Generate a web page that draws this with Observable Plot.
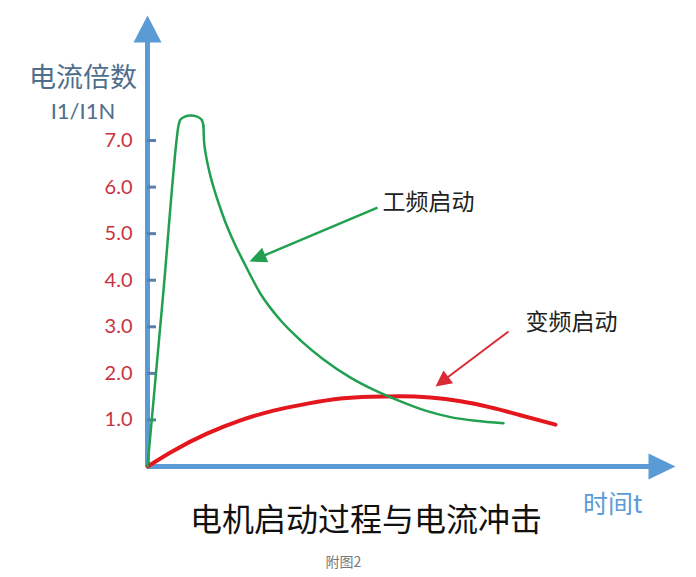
<!DOCTYPE html>
<html>
<head>
<meta charset="utf-8">
<script src="https://cdn.jsdelivr.net/npm/d3@7"></script>
<script src="https://cdn.jsdelivr.net/npm/@observablehq/plot@0.6"></script>
<style>
  body { margin: 0; background: #fff; }
  #chart svg { display: block; }
</style>
</head>
<body>
<div id="chart"></div>
<script>
// ---- data (time in arbitrary units, current as multiple of rated current I1/I1N) ----
// direct-on-line start: rise and peak
const greenRiseT = [0, 0.31, 0.62, 0.66, 0.76, 0.86, 0.98, 1.08, 1.12];
const greenRiseI = [0, 3.66, 7.32, 7.45, 7.52, 7.54, 7.52, 7.45, 7.30];
// direct-on-line start: decay
const greenDecayT = [1.12, 1.13, 1.16, 1.20, 1.26, 1.34, 1.44, 1.56, 1.74, 1.92, 2.26, 2.66, 3.06, 3.52, 4.06, 4.56, 5.06, 5.56, 6.06, 6.56, 7.12];
const greenDecayI = [7.30, 7.00, 6.74, 6.51, 6.23, 5.93, 5.60, 5.24, 4.79, 4.40, 3.71, 3.14, 2.71, 2.30, 1.91, 1.63, 1.40, 1.20, 1.06, 0.98, 0.93];
// variable-frequency start
const redT = [0, 0.52, 1.20, 1.86, 2.52, 3.20, 3.86, 4.46, 5.06, 5.66, 6.26, 6.86, 7.46, 8.16];
const redI = [0, 0.34, 0.71, 0.99, 1.20, 1.35, 1.46, 1.50, 1.51, 1.48, 1.40, 1.27, 1.10, 0.90];
const yTicks = [1, 2, 3, 4, 5, 6, 7];
const seriesNames = ["工频启动", "变频启动"];
const labelT = [4.7, 7.56];
const labelI = [5.67, 3.09];
const arrowStartT = [4.6, 7.22];
const arrowStartI = [5.56, 2.90];
const arrowTipT = [2.04, 5.76];
const arrowTipI = [4.40, 1.72];
const xMax = 10.56;
const yMax = 9.685;
const yTitle = ["电流倍数", "I1/I1N"];
const xTitle = "时间t";
const chartTitle = "电机启动过程与电流冲击";
const caption = "附图2";

// ---- layout / style ----
const W = 696, H = 577, mL = 147, mR = 21, mT = 15, mB = 111;
const kx = (W - mL - mR) / xMax;   // px per time unit
const ky = (H - mT - mB) / yMax;   // px per current unit
const GREEN = "#21a050", RED = "#e3171d", RED_ARROW = "#d92a35", BLUE = "#5b9bd5";
const TICK_RED = "#c8323f", LABEL_BLUE = "#4f6e8c";
const CJK = "'Noto Sans CJK SC', 'Noto Sans', sans-serif";
const LAT = "Lato, 'Noto Sans', sans-serif";

const headSymbol = (len, half) => ({
  draw(ctx) { ctx.moveTo(0, 0); ctx.lineTo(half, len); ctx.lineTo(-half, len); ctx.closePath(); }
});

const greenRise = greenRiseT.map((t, i) => ({t, v: greenRiseI[i]}));
const greenDecay = greenDecayT.map((t, i) => ({t, v: greenDecayI[i]}));
const red = redT.map((t, i) => ({t, v: redI[i]}));

const heads = [
  {len: 17, half: 8, color: GREEN, w: 2.5},
  {len: 16, half: 8, color: RED_ARROW, w: 2}
];
const annos = seriesNames.map((name, i) => {
  const dxp = (arrowTipT[i] - arrowStartT[i]) * kx;
  const dyp = -(arrowTipI[i] - arrowStartI[i]) * ky;
  const L = Math.hypot(dxp, dyp);
  const f = (L - heads[i].len * 0.8) / L;
  return {
    name, lt: labelT[i], li: labelI[i],
    x1: arrowStartT[i], y1: arrowStartI[i],
    x2: arrowStartT[i] + (arrowTipT[i] - arrowStartT[i]) * f,
    y2: arrowStartI[i] + (arrowTipI[i] - arrowStartI[i]) * f,
    tx: arrowTipT[i], ty: arrowTipI[i],
    rot: Math.atan2(dxp, -dyp) * 180 / Math.PI,
    ...heads[i]
  };
});

const axisHeadLen = 27;

const plot = Plot.plot({
  width: W, height: H,
  marginLeft: mL, marginRight: mR, marginTop: mT, marginBottom: mB,
  style: {fontFamily: LAT, fontSize: "20px", background: "#fff", overflow: "visible"},
  x: {domain: [0, xMax], axis: null},
  y: {domain: [0, yMax]},
  marks: [
    // axes lines
    Plot.ruleX([0], {y1: 0, y2: yMax - (axisHeadLen - 4) / ky, stroke: BLUE, strokeWidth: 5}),
    Plot.ruleY([0], {x1: 0, x2: xMax - (axisHeadLen - 4) / kx, stroke: BLUE, strokeWidth: 5}),
    Plot.dot([{t: 0, v: yMax}], {x: "t", y: "v", symbol: headSymbol(axisHeadLen, 14), fill: BLUE, stroke: "none", rotate: 0}),
    Plot.dot([{t: xMax, v: 0}], {x: "t", y: "v", symbol: headSymbol(axisHeadLen, 13), fill: BLUE, stroke: "none", rotate: 90}),
    // y ticks
    Plot.ruleY(yTicks, {x1: 0, x2: 9 / kx, stroke: "#5a80aa", strokeWidth: 3}),
    Plot.axisY({ticks: yTicks, tickFormat: d => d.toFixed(1), tickSize: 0, tickPadding: 15,
      fontSize: 20, color: TICK_RED, label: null}),
    // curves
    Plot.line(red, {x: "t", y: "v", stroke: RED, strokeWidth: 4, curve: "monotone-x", strokeLinecap: "round"}),
    Plot.line(greenRise, {x: "t", y: "v", stroke: GREEN, strokeWidth: 2.5, curve: "catmull-rom", strokeLinecap: "round"}),
    Plot.line(greenDecay, {x: "t", y: "v", stroke: GREEN, strokeWidth: 2.5, curve: "monotone-x", strokeLinecap: "round"}),
    // annotation arrows
    Plot.link(annos, {x1: "x1", y1: "y1", x2: "x2", y2: "y2", stroke: d => d.color, strokeWidth: d => d.w}),
    Plot.dot([annos[0]], {x: "tx", y: "ty", symbol: headSymbol(annos[0].len, annos[0].half), fill: annos[0].color, stroke: "none", rotate: annos[0].rot}),
    Plot.dot([annos[1]], {x: "tx", y: "ty", symbol: headSymbol(annos[1].len, annos[1].half), fill: annos[1].color, stroke: "none", rotate: annos[1].rot}),
    Plot.text(annos, {x: "lt", y: "li", text: "name", textAnchor: "start", fontSize: 23, fontFamily: CJK, fill: "#222"}),
    // axis titles
    Plot.text([yTitle[0]], {text: d => d, frameAnchor: "top-left", dx: -64.5, dy: 52, textAnchor: "middle", fontSize: 27, fontFamily: CJK, fill: LABEL_BLUE}),
    Plot.text([yTitle[1]], {text: d => d, frameAnchor: "top-left", dx: -64.5, dy: 88, textAnchor: "middle", fontSize: 22, fontFamily: LAT, fill: LABEL_BLUE}),
    Plot.text([xTitle], {text: d => d, frameAnchor: "bottom-right", dx: -33, dy: 46, textAnchor: "end", fontSize: 25, fontFamily: CJK, fill: BLUE}),
    // title & caption
    Plot.text([chartTitle], {text: d => d, frameAnchor: "bottom", dx: -45.5, dy: 64, fontSize: 32, fontFamily: CJK, fill: "#111"}),
    Plot.text([caption], {text: d => d, frameAnchor: "bottom", dx: -68, dy: 100, fontSize: 14, fontFamily: CJK, fill: "#777"})
  ]
});
document.getElementById("chart").append(plot);
</script>
</body>
</html>
